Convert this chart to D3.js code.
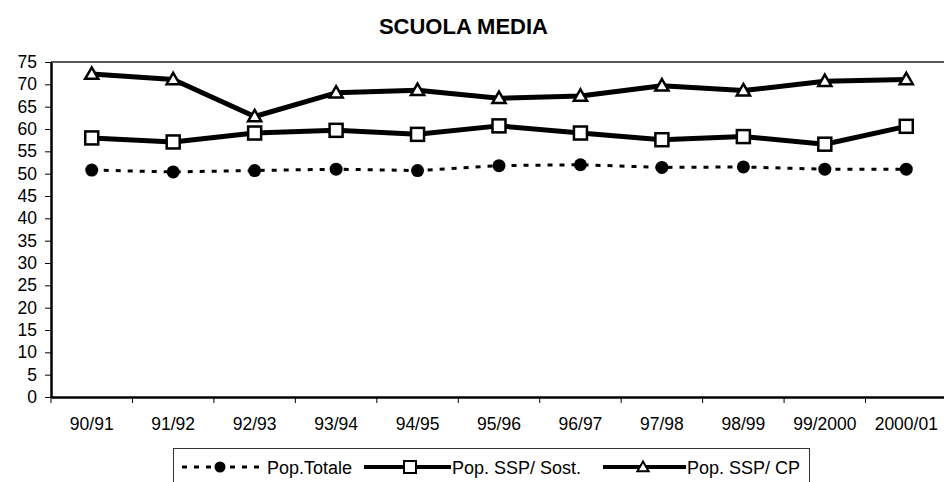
<!DOCTYPE html>
<html><head><meta charset="utf-8">
<script src="https://cdnjs.cloudflare.com/ajax/libs/d3/7.8.5/d3.min.js"></script>
<style>
html,body{margin:0;padding:0;background:#fff;}
svg{display:block;font-family:"Liberation Sans",Arial,sans-serif;}
</style></head><body>
<svg id="chart" width="944" height="482"></svg>
<script>
const categories = ["90/91","91/92","92/93","93/94","94/95","95/96","96/97","97/98","98/99","99/2000","2000/01"];
const popTotale = [50.8,50.4,50.7,51.0,50.7,51.8,52.0,51.4,51.5,51.0,51.0];
const popSost   = [58.0,57.1,59.1,59.7,58.8,60.7,59.1,57.6,58.3,56.6,60.6];
const popCP     = [72.3,71.1,62.8,68.1,68.7,66.9,67.4,69.7,68.6,70.7,71.1];
const yTicks = d3.range(0, 80, 5);
const seriesNames = ["Pop.Totale","Pop. SSP/ Sost.","Pop. SSP/ CP"];
const chartTitle = "SCUOLA MEDIA";

(function(){
const svg = d3.select("#chart");
const pL = 51, pR = 947, pT = 62, pB = 397;
const FONT = "Liberation Sans, Arial, sans-serif";
const x = d3.scaleBand().domain(categories).range([pL, pR]);
const y = d3.scaleLinear().domain([0, 75]).range([pB, pT]);

svg.append("text").attr("x", 548).attr("y", 34).attr("text-anchor","end")
  .attr("font-weight","bold").attr("font-size",22).text(chartTitle);

svg.append("line").attr("x1", pL).attr("x2", 944).attr("y1", pT).attr("y2", pT)
  .attr("stroke","#222").attr("stroke-width",1.5);

const ya = svg.append("g").attr("transform",`translate(${pL},0)`)
  .call(d3.axisLeft(y).tickValues(yTicks).tickSize(6).tickPadding(8).tickSizeOuter(0));
ya.select(".domain").attr("stroke","#000").attr("stroke-width",2.5);
ya.selectAll(".tick line").attr("stroke","#000").attr("stroke-width",1);
ya.selectAll("text").attr("font-size",17.5).attr("font-family",FONT).attr("fill","#000");

const xa = svg.append("g").attr("transform",`translate(0,${pB})`)
  .call(d3.axisBottom(x).tickSize(0).tickPadding(21));
xa.select(".domain").attr("stroke","#000").attr("stroke-width",2.5);
xa.selectAll("text").attr("font-size",17.5).attr("font-family",FONT).attr("fill","#000");
const bounds = categories.map(c => x(c));
svg.append("g").selectAll("line").data(bounds).join("line")
  .attr("x1", d => d).attr("x2", d => d).attr("y1", pB).attr("y2", pB + 6)
  .attr("stroke","#000").attr("stroke-width",1);

const cx = c => x(c) + x.bandwidth()/2;
const line = d3.line().x((d,i) => cx(categories[i])).y(d => y(d));

svg.append("path").datum(popTotale).attr("d", line).attr("fill","none")
  .attr("stroke","#000").attr("stroke-width",3).attr("stroke-dasharray","5,7");
svg.append("g").selectAll("circle").data(popTotale).join("circle")
  .attr("cx",(d,i)=>cx(categories[i])).attr("cy",d=>y(d)).attr("r",6.5).attr("fill","#000");

svg.append("path").datum(popSost).attr("d", line).attr("fill","none")
  .attr("stroke","#000").attr("stroke-width",5).attr("stroke-linejoin","round");
svg.append("g").selectAll("rect").data(popSost).join("rect")
  .attr("x",(d,i)=>cx(categories[i])-6.5).attr("y",d=>y(d)-6.5).attr("width",13).attr("height",13)
  .attr("fill","#fff").attr("stroke","#000").attr("stroke-width",2.5);

svg.append("path").datum(popCP).attr("d", line).attr("fill","none")
  .attr("stroke","#000").attr("stroke-width",5).attr("stroke-linejoin","round");
const tri = d3.symbol().type(d3.symbolTriangle).size(75);
svg.append("g").selectAll("path").data(popCP).join("path")
  .attr("d", tri).attr("transform",(d,i)=>`translate(${cx(categories[i])},${y(d)+1})`)
  .attr("fill","#fff").attr("stroke","#000").attr("stroke-width",2.5);

const lg = svg.append("g");
lg.append("rect").attr("x",173.5).attr("y",448.5).attr("width",636).attr("height",50)
  .attr("fill","#fff").attr("stroke","#333").attr("stroke-width",1);
const ly = 467;
lg.append("line").attr("x1",182).attr("x2",266).attr("y1",ly).attr("y2",ly)
  .attr("stroke","#000").attr("stroke-width",3).attr("stroke-dasharray","5,7");
lg.append("circle").attr("cx",220).attr("cy",ly).attr("r",5.5).attr("fill","#000");
lg.append("text").attr("x",267).attr("y",ly+6.5).attr("font-size",18).text(seriesNames[0]);
lg.append("line").attr("x1",364).attr("x2",451).attr("y1",ly).attr("y2",ly)
  .attr("stroke","#000").attr("stroke-width",4);
lg.append("rect").attr("x",404).attr("y",ly-6).attr("width",12).attr("height",12)
  .attr("fill","#fff").attr("stroke","#000").attr("stroke-width",2);
lg.append("text").attr("x",452).attr("y",ly+6.5).attr("font-size",18).text(seriesNames[1]);
lg.append("line").attr("x1",603).attr("x2",686).attr("y1",ly).attr("y2",ly)
  .attr("stroke","#000").attr("stroke-width",4);
lg.append("path").attr("d", d3.symbol().type(d3.symbolTriangle).size(55))
  .attr("transform",`translate(643,${ly+1})`).attr("fill","#fff").attr("stroke","#000").attr("stroke-width",2);
lg.append("text").attr("x",687).attr("y",ly+6.5).attr("font-size",18).text(seriesNames[2]);
})();
</script>
</body></html>
